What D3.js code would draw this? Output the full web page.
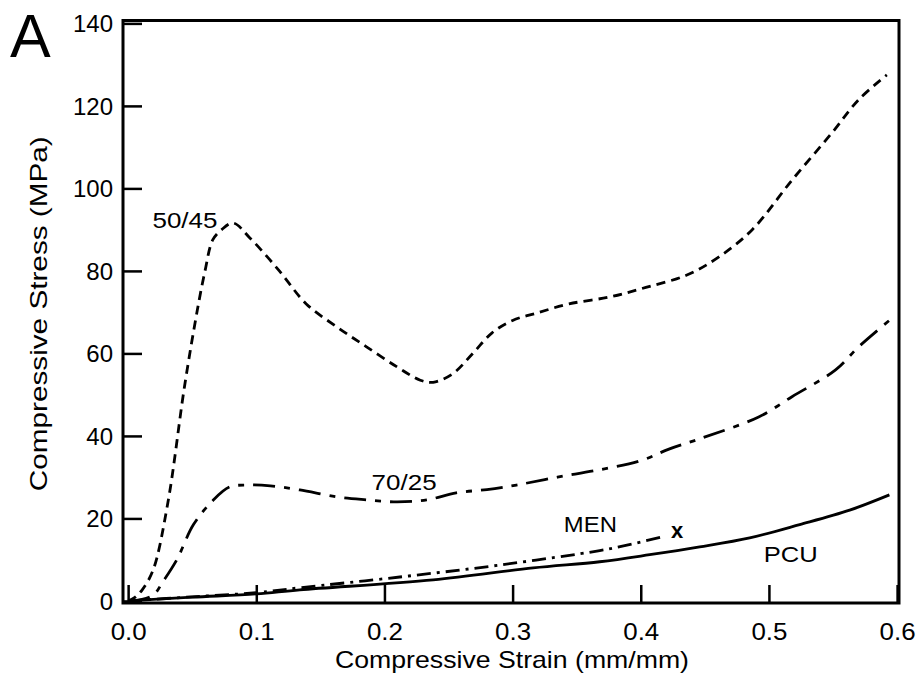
<!DOCTYPE html>
<html>
<head>
<meta charset="utf-8">
<script src="https://cdn.jsdelivr.net/npm/d3@7"></script>
<style>
  html, body { margin: 0; padding: 0; background: #fff; }
  svg { display: block; font-family: "Liberation Sans", Arial, sans-serif; }
</style>
</head>
<body>
<svg id="chart" width="919" height="680"></svg>
<script>
// ---- data ----
const xTicks = [0.0, 0.1, 0.2, 0.3, 0.4, 0.5, 0.6];
const yTicks = [0, 20, 40, 60, 80, 100, 120, 140];

const strain5045 = [0, 0.005, 0.011, 0.0195, 0.031, 0.044, 0.054, 0.060, 0.066, 0.073, 0.082, 0.095, 0.118, 0.139, 0.163, 0.186, 0.21, 0.228, 0.238, 0.253, 0.269, 0.284, 0.300, 0.319, 0.344, 0.376, 0.404, 0.436, 0.461, 0.487, 0.518, 0.549, 0.570, 0.592];
const stress5045 = [0, 0.8, 2.7, 7.5, 23.8, 52, 70.5, 80, 87.5, 90, 91.6, 88, 80, 72, 66.4, 61.6, 56.7, 53.5, 53, 55, 60, 65, 68, 69.8, 72, 73.7, 76, 79, 83.4, 90, 102, 113.4, 121.5, 127.5];

const strain7025 = [0, 0.01, 0.02, 0.027, 0.038, 0.051, 0.066, 0.079, 0.093, 0.111, 0.134, 0.163, 0.186, 0.21, 0.233, 0.256, 0.28, 0.303, 0.335, 0.368, 0.4, 0.422, 0.446, 0.492, 0.518, 0.552, 0.570, 0.594];
const stress7025 = [0, 0.3, 1.5, 4.6, 10, 18.5, 24.3, 27.6, 28.1, 27.9, 26.9, 25.2, 24.5, 24, 24.5, 26.2, 27, 28.1, 30, 31.8, 34, 36.8, 39.3, 44.6, 49.5, 56, 61.6, 68];

const strainMEN = [0, 0.05, 0.1, 0.134, 0.212, 0.29, 0.368, 0.383, 0.418];
const stressMEN = [0, 1.0, 2.0, 3.2, 5.8, 8.7, 12.2, 13.1, 15.6];

const strainPCU = [0, 0.05, 0.1, 0.134, 0.238, 0.316, 0.368, 0.407, 0.446, 0.485, 0.524, 0.563, 0.594];
const stressPCU = [0, 0.9, 1.7, 2.7, 5.1, 8, 9.5, 11.2, 13.1, 15.3, 18.5, 22, 25.7];

const seriesNames = ["50/45", "70/25", "MEN", "PCU"];

// ---- layout ----
const svg = d3.select("#chart");
const x = d3.scaleLinear().domain([-0.004, 0.6015]).range([123, 899]);
const y = d3.scaleLinear().domain([-0.5, 140.7]).range([603, 20.5]);

const zip = (a, b) => a.map((v, i) => [v, b[i]]);
const line = d3.line().x(d => x(d[0])).y(d => y(d[1])).curve(d3.curveCatmullRom.alpha(0.5));

const series = [
  { name: seriesNames[0], data: zip(strain5045, stress5045), dash: "9,6" },
  { name: seriesNames[1], data: zip(strain7025, stress7025), dash: "22,9,6,9" },
  { name: seriesNames[2], data: zip(strainMEN, stressMEN), dash: "14,6,3,6" },
  { name: seriesNames[3], data: zip(strainPCU, stressPCU), dash: null }
];

series.forEach(s => {
  svg.append("path")
    .attr("d", line(s.data))
    .attr("fill", "none")
    .attr("stroke", "#000")
    .attr("stroke-width", 2.8)
    .attr("stroke-dasharray", s.dash)
    .attr("stroke-linecap", "butt");
});

// ---- axes ----
const xAxis = d3.axisBottom(x).tickValues(xTicks).tickSize(-18).tickPadding(0).tickFormat(d3.format(".1f"));
const yAxis = d3.axisLeft(y).tickValues(yTicks).tickSize(-19).tickPadding(0).tickFormat(d3.format("d"));

const gx = svg.append("g").attr("transform", `translate(0,${y.range()[0]})`).call(xAxis);
const gy = svg.append("g").attr("transform", `translate(${x.range()[0]},0)`).call(yAxis);

[gx, gy].forEach(g => {
  g.select(".domain").remove();
  g.selectAll(".tick line").attr("stroke", "#000").attr("stroke-width", 2.5);
  g.selectAll(".tick text").attr("fill", "#000").attr("font-size", 24).attr("font-family", "Liberation Sans, Arial, sans-serif");
});
gx.selectAll(".tick text").attr("y", 0).attr("dy", 37).attr("textLength", 36).attr("lengthAdjust", "spacingAndGlyphs");
gy.selectAll(".tick text").attr("x", -10).attr("dy", "0.35em");

// frame
const [x0, x1] = x.range();
const [y0, y1] = y.range();
svg.append("rect")
  .attr("x", x0).attr("y", y1)
  .attr("width", x1 - x0).attr("height", y0 - y1)
  .attr("fill", "none").attr("stroke", "#000").attr("stroke-width", 3);

// axis titles
svg.append("text")
  .attr("x", (x0 + x1) / 2 + 1).attr("y", 668)
  .attr("text-anchor", "middle").attr("font-size", 24)
  .attr("textLength", 354).attr("lengthAdjust", "spacingAndGlyphs")
  .text("Compressive Strain (mm/mm)");

svg.append("text")
  .attr("transform", `translate(47,${(y0 + y1) / 2 + 2}) rotate(-90)`)
  .attr("text-anchor", "middle").attr("font-size", 24)
  .attr("textLength", 355).attr("lengthAdjust", "spacingAndGlyphs")
  .text("Compressive Stress (MPa)");

// panel letter
svg.append("text").attr("x", 10).attr("y", 57).attr("font-size", 61).text("A");

// curve labels
const labels = [
  { t: seriesNames[0], sx: 0.019, sy: 90.4, w: 65 },
  { t: seriesNames[1], sx: 0.19, sy: 26.9, w: 65 },
  { t: seriesNames[2], sx: 0.34, sy: 16.7, w: 53 },
  { t: seriesNames[3], sx: 0.496, sy: 9.5, w: 54 }
];
labels.forEach(l => {
  svg.append("text")
    .attr("x", x(l.sx)).attr("y", y(l.sy))
    .attr("font-size", 22)
    .attr("textLength", l.w).attr("lengthAdjust", "spacingAndGlyphs")
    .text(l.t);
});
// failure mark for MEN
svg.append("text")
  .attr("x", x(0.4235)).attr("y", y(15.3))
  .attr("font-size", 22).attr("font-weight", "bold")
  .text("x");
</script>
</body>
</html>
